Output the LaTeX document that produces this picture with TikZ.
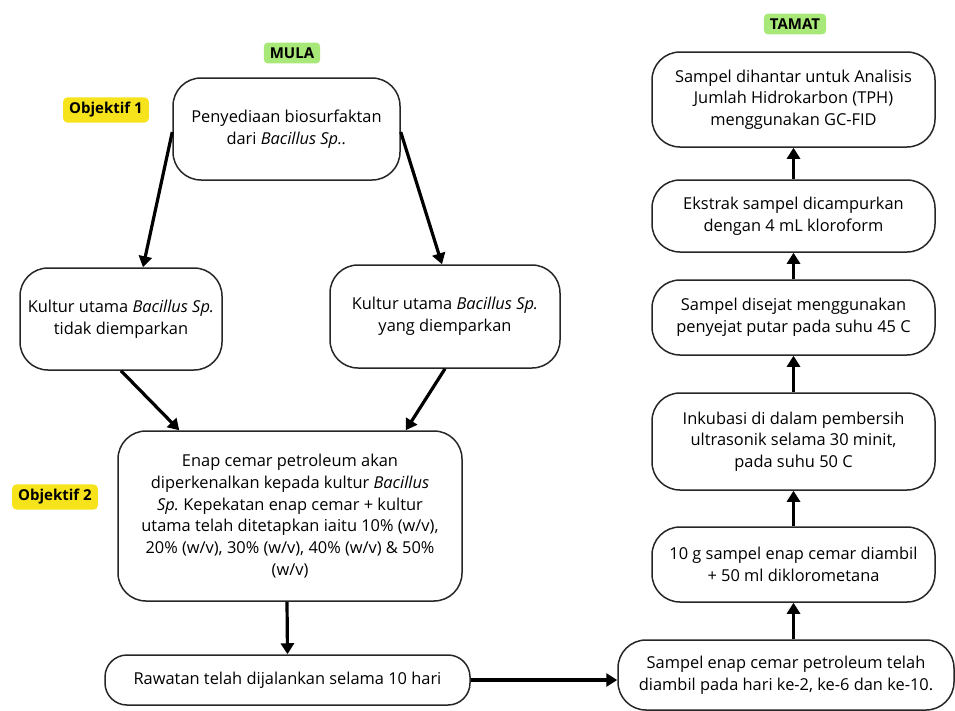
\documentclass[tikz,border=0pt]{standalone}
\usepackage{fontspec}
\setmainfont{Open Sans}
\frenchspacing
\usetikzlibrary{arrows.meta}
\definecolor{lblgreen}{HTML}{A8E878}
\definecolor{lblyellow}{HTML}{F7E31B}
\begin{document}
\begin{tikzpicture}[x=1pt,y=-1pt,
 box/.style={draw=black!85, line width=1.5pt, rounded corners=28pt, align=center, font=\fontsize{16.4}{21.7}\selectfont, inner sep=0pt},
 arr/.style={line width=3.2pt, -{Triangle[length=11pt,width=13pt]}},
 tag/.style={rounded corners=4pt, font=\bfseries\fontsize{15}{16}\selectfont, inner xsep=6pt, inner ysep=5pt}]
\useasboundingbox (0,0) rectangle (955,710);
% labels
\node[tag, fill=lblgreen] (mula) at (292,53) {MULA};
\node[tag, fill=lblgreen] (tamat) at (795,24) {TAMAT};
\node[tag, fill=lblyellow] (obj1) at (106,110) {Objektif 1};
\node[tag, fill=lblyellow] (obj2) at (55,497) {Objektif 2};
% left part
\node[box, minimum width=227pt, minimum height=102pt] (a) at (286.5,129) {Penyediaan biosurfaktan\\dari \textit{Bacillus Sp..}};
\node[box, minimum width=202pt, minimum height=102pt] (b) at (121,319) {Kultur utama \textit{Bacillus Sp.}\\tidak diemparkan};
\node[box, minimum width=230pt, minimum height=103pt] (c) at (445,316.5) {Kultur utama \textit{Bacillus Sp.}\\yang diemparkan};
\node[box, minimum width=344pt, minimum height=170pt] (d) at (290,516) {Enap cemar petroleum akan\\diperkenalkan kepada kultur \textit{Bacillus}\\\textit{Sp.} Kepekatan enap cemar + kultur\\utama telah ditetapkan iaitu 10\% (w/v),\\20\% (w/v), 30\% (w/v), 40\% (w/v) \& 50\%\\(w/v)};
\node[box, rounded corners=22pt, minimum width=365pt, minimum height=50pt] (e) at (287.5,680) {Rawatan telah dijalankan selama 10 hari};
\node[box, minimum width=336pt, minimum height=70pt] (f) at (786,675) {Sampel enap cemar petroleum telah\\diambil pada hari ke-2, ke-6 dan ke-10.};
% right column
\node[box, minimum width=283pt, minimum height=95pt] (r1) at (793.5,99.5) {Sampel dihantar untuk Analisis\\Jumlah Hidrokarbon (TPH)\\menggunakan GC-FID};
\node[box, minimum width=283pt, minimum height=72pt] (r2) at (793.5,216) {Ekstrak sampel dicampurkan\\dengan 4 mL kloroform};
\node[box, minimum width=283pt, minimum height=75pt] (r3) at (793.5,317.5) {Sampel disejat menggunakan\\penyejat putar pada suhu 45 C};
\node[box, minimum width=283pt, minimum height=97pt] (r4) at (793.5,441.5) {Inkubasi di dalam pembersih\\ultrasonik selama 30 minit,\\pada suhu 50 C};
\node[box, minimum width=283pt, minimum height=75pt] (r5) at (793.5,564.5) {10 g sampel enap cemar diambil\\+ 50 ml diklorometana};
% arrows
\draw[arr] ([yshift=-3pt]a.west) -- ([xshift=22pt]b.north);
\draw[arr] ([yshift=-3pt]a.east) -- ([xshift=-3pt]c.north);
\draw[arr] (b.south) -- ([xshift=62pt]d.north west);
\draw[arr] (c.south) -- ([xshift=-57pt]d.north east);
\draw[arr] ([xshift=-3pt]d.south) -- (e.north);
\draw[arr, line width=4pt] (e.east) -- (e.east -| f.west);
\draw[arr] (r5.south |- f.north) -- (r5.south);
\draw[arr] (r5.north) -- (r4.south);
\draw[arr] (r4.north) -- (r3.south);
\draw[arr] (r3.north) -- (r2.south);
\draw[arr] (r2.north) -- (r1.south);
\end{tikzpicture}
\end{document}
